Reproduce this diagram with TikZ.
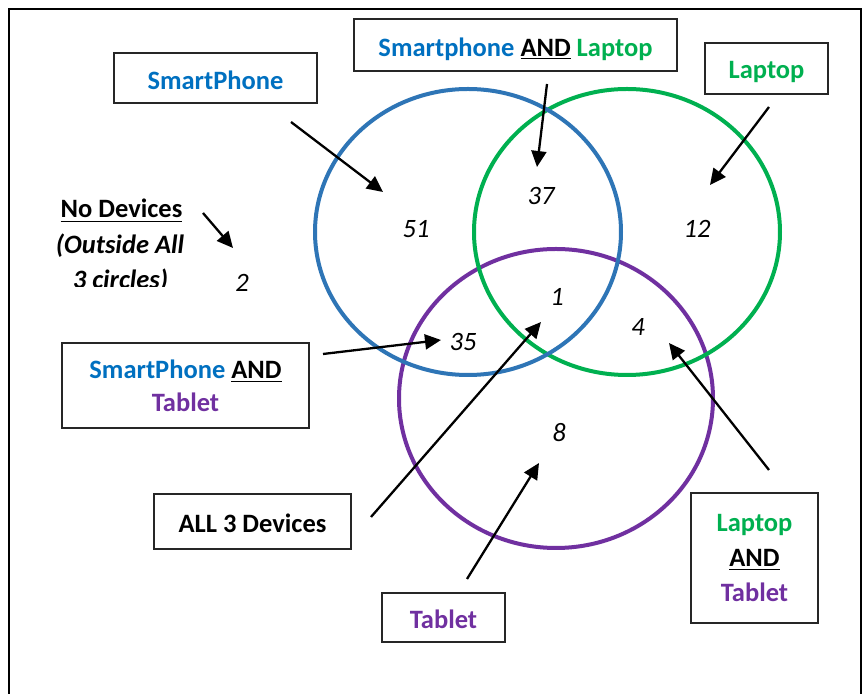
\documentclass[tikz,border=0pt]{standalone}
\usepackage{fontspec}
\setmainfont{Carlito}
\usetikzlibrary{arrows.meta}
\definecolor{tblue}{HTML}{0070C0}
\definecolor{cblue}{HTML}{2E75B6}
\definecolor{tgreen}{HTML}{00B050}
\definecolor{tpurple}{HTML}{7030A0}
\newcommand{\lowr}[1]{\raisebox{-1.75pt}{#1}}
\tikzset{
  lbl/.style={draw=black!85, line width=1pt, font=\fontsize{13.25}{16.5}\selectfont\bfseries, align=center, inner sep=0pt},
  one/.style={text depth=0pt},
  num/.style={font=\fontsize{13.25}{16}\selectfont\itshape, inner sep=0pt},
  ptr/.style={line width=1.15pt, -{Triangle[length=8pt,width=7.5pt]}},
  ring/.style={line width=2pt}
}
\begin{document}
\begin{tikzpicture}[x=0.5pt,y=-0.5pt]
\useasboundingbox (0,0) rectangle (864,694);
\fill[white] (0,0) rectangle (864,694);
% frame
\draw[line width=1.1pt] (9,700) -- (9,9) -- (861,9) -- (861,700);
% circles
\draw[ring, tpurple] (556,398.5) ellipse [x radius=157, y radius=149.5];
\draw[ring, tgreen] (627,232) ellipse [x radius=153, y radius=143];
\draw[ring, cblue] (468,232) ellipse [x radius=153, y radius=143];
% numbers
\node[num] (n51) at (416,229) {51};
\node[num] (n37) at (541,196) {37};
\node[num] (n12) at (697,229) {12};
\node[num] (n1) at (557,297) {1};
\node[num] (n4) at (638,327) {4};
\node[num] (n35) at (463,342) {35};
\node[num] (n8) at (559,433) {8};
\node[num] (n2) at (242,283) {2};
% label boxes
\node[lbl, one, minimum width=101.5pt, minimum height=25pt] (bSP) at (215.5,78) {\lowr{\textcolor{tblue}{SmartPhone}}};
\node[lbl, one, minimum width=161.5pt, minimum height=26pt] (bSL) at (515.5,45) {\lowr{\textcolor{tblue}{Smartphone} \underline{AND} \textcolor{tgreen}{Laptop}}};
\node[lbl, one, minimum width=61.5pt, minimum height=25.5pt] (bL) at (766.5,68.5) {\lowr{\textcolor{tgreen}{Laptop}}};
\node[lbl, minimum width=123.5pt, minimum height=42.5pt] (bST) at (185.5,385.5) {\textcolor{tblue}{SmartPhone} \underline{AND}\\\textcolor{tpurple}{Tablet}};
\node[lbl, one, minimum width=98.5pt, minimum height=27.5pt] (bA) at (252.5,521.5) {\lowr{ALL 3 Devices}};
\node[lbl, one, minimum width=61.5pt, minimum height=24.5pt] (bT) at (443.5,617.5) {\lowr{\textcolor{tpurple}{Tablet}}};
\node[lbl, minimum width=63.5pt, minimum height=65pt, font=\fontsize{13.25}{17.3}\selectfont\bfseries] (bLT) at (754.5,558) {\textcolor{tgreen}{Laptop}\\\underline{AND}\\\textcolor{tpurple}{Tablet}};
% no devices text
\begin{scope}
\clip (0,0) rectangle (400,287);
\node[font=\fontsize{13.25}{16}\selectfont\bfseries, anchor=base, inner sep=0pt] (nd1) at (121.5,218) {\underline{No Devices}};
\node[font=\fontsize{13.25}{16}\selectfont\bfseries\itshape, anchor=base, inner sep=0pt] (nd2) at (120,254) {(Outside All};
\node[font=\fontsize{13.25}{16}\selectfont\bfseries\itshape, anchor=base, inner sep=0pt] (nd3) at (120.5,289) {3 circles)};
\end{scope}
% arrow end points
\coordinate (aSPs) at (291,122); \coordinate (aSPe) at (383,192);
\coordinate (aNDs) at (203,213); \coordinate (aNDe) at (233,248);
\coordinate (aSLs) at (547,84);  \coordinate (aSLe) at (537,167);
\coordinate (aLs) at (769,107);  \coordinate (aLe) at (710,185);
\coordinate (aSTs) at (323,354); \coordinate (aSTe) at (441,340);
\coordinate (aAs) at (371,517);  \coordinate (aAe) at (541,322);
\coordinate (aTs) at (467,579);  \coordinate (aTe) at (539,463);
\coordinate (aLTs) at (769,470); \coordinate (aLTe) at (669,343);
\draw[ptr] (aSPs) -- (aSPe);
\draw[ptr] (aNDs) -- (aNDe);
\draw[ptr] (aSLs) -- (aSLe);
\draw[ptr] (aLs) -- (aLe);
\draw[ptr] (aSTs) -- (aSTe);
\draw[ptr] (aAs) -- (aAe);
\draw[ptr] (aTs) -- (aTe);
\draw[ptr] (aLTs) -- (aLTe);
\end{tikzpicture}
\end{document}
